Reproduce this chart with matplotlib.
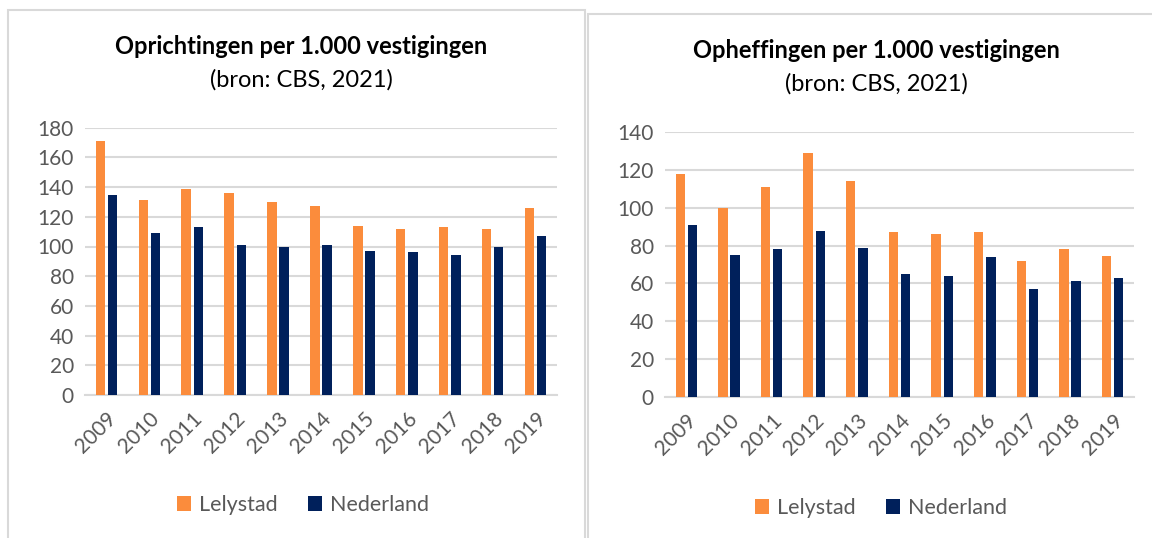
import matplotlib
matplotlib.use("Agg")
import matplotlib.pyplot as plt
import numpy as np
from matplotlib.patches import Rectangle

# data
years = ["2009", "2010", "2011", "2012", "2013", "2014", "2015", "2016", "2017", "2018", "2019"]
opr_lelystad = [171, 131, 139, 136, 130, 127, 114, 112, 113, 112, 126]
opr_nederland = [135, 109, 113, 101, 100, 101, 97, 96, 94, 100, 107]
oph_lelystad = [118, 100, 111, 129, 114, 87, 86, 87, 72, 78, 74.5]
oph_nederland = [91, 75, 78, 87.5, 79, 65, 64, 74, 57, 61, 63]

ORANGE = "#fb8c3c"
NAVY = "#00205b"
GREY = "#595959"
GRID = "#d9d9d9"

plt.rcParams["font.family"] = ["Lato", "DejaVu Sans"]

W, H = 1152, 538
fig = plt.figure(figsize=(W / 100, H / 100), dpi=100)


def px_box(x0, y0, x1, y1):
    # pixel box (top-left origin) -> figure fraction rect
    return [x0 / W, 1 - y1 / H, (x1 - x0) / W, (y1 - y0) / H]


def panel(frame, axbox, a, b, ymax, title, tx, ty, legy, legx):
    # light grey frame round the chart
    fx0, fy0, fx1, fy1 = frame
    fig.patches.append(Rectangle((fx0 / W, 1 - fy1 / H), (fx1 - fx0) / W, (fy1 - fy0) / H,
                                 transform=fig.transFigure, fill=False, ec=GRID, lw=1.5))
    ax = fig.add_axes(px_box(*axbox))
    x = np.arange(len(years))
    w = 0.22
    ax.bar(x - 0.142, a, w, color=ORANGE, label="Lelystad", zorder=3)
    ax.bar(x + 0.142, b, w, color=NAVY, label="Nederland", zorder=3)
    ax.set_xlim(-0.5, len(years) - 0.5)
    ax.set_ylim(0, ymax)
    ax.set_yticks(np.arange(0, ymax + 1, 20))
    ax.grid(axis="y", color=GRID, lw=1.5, zorder=0)
    for s in ["top", "right", "left"]:
        ax.spines[s].set_visible(False)
    ax.spines["bottom"].set_color(GRID)
    ax.spines["bottom"].set_linewidth(1.5)
    ax.tick_params(length=0, labelsize=15, colors=GREY, pad=8)
    ax.set_xticks(x)
    ax.set_xticklabels(years, rotation=45, ha="right", rotation_mode="anchor")
    ax.tick_params(axis="x", pad=10)
    fig.text(tx / W, 1 - ty / H, title, ha="center", va="center",
             fontsize=17, fontweight="bold", color="black")
    fig.text(tx / W, 1 - (ty + 33) / H, "(bron: CBS, 2021)", ha="center", va="center",
             fontsize=17, color="black")
    leg = fig.legend(handles=ax.patches[:1] + ax.patches[len(years):len(years) + 1],
                     labels=["Lelystad", "Nederland"], loc="center",
                     bbox_to_anchor=(legx / W, 1 - legy / H), ncol=2, frameon=False,
                     fontsize=15.5, handlelength=0.65, handleheight=0.65,
                     handletextpad=0.4, columnspacing=1.4)
    for t in leg.get_texts():
        t.set_color(GREY)
    return ax


panel((8, 10, 585, 545), (85, 127.7, 557, 395), opr_lelystad, opr_nederland, 180,
      "Oprichtingen per 1.000 vestigingen", 301, 47, 505, 303)
panel((588, 14, 1160, 545), (665, 132.3, 1134, 396.7), oph_lelystad, oph_nederland, 140,
      "Opheffingen per 1.000 vestigingen", 876, 51, 508, 881)

fig.savefig("out.png", dpi=100)
